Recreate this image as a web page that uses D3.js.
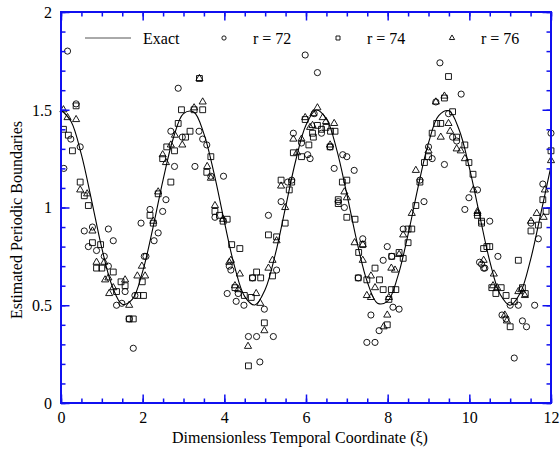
<!DOCTYPE html>
<html><head><meta charset="utf-8">
<script src="https://cdn.jsdelivr.net/npm/d3@7"></script>
<style>body{margin:0;background:#fff}svg{display:block}text{font-family:"Liberation Serif","Times New Roman",serif;fill:#000}</style>
</head><body><svg id="c" width="560" height="454"></svg>
<script>
// Exact curve samples (xi step 0.25)
const exactX = d3.range(0, 12.001, 0.25);
const exactY = [1.5,1.4388,1.2702,1.0354,0.7919,0.5994,0.505,0.5318,0.6732,0.8946,1.1418,1.3544,1.4801,1.4883,1.3769,1.1733,0.9273,0.699,0.5444,0.5014,0.5804,0.7622,1.0022,1.2417,1.4219,1.4989,1.4537,1.2974,1.0684,0.8226,0.6202,0.5108,0.5212,0.6487,0.8624,1.1097,1.3302,1.4697,1.4944,1.3979,1.2041,0.9624,0.7262,0.5574,0.5,0.5634,0.7336,0.969,1.2121];

const r72 = [[0.16,1.80],[0.37,1.53],[0.24,1.35],[0.47,1.31],[0.07,1.20],[1.96,0.92],[0.77,0.90],[0.57,0.88],[1.16,0.89],[1.28,0.83],[0.67,0.80],[0.87,0.78],[1.06,0.75],[1.16,0.70],[1.57,0.57],[1.36,0.50],[1.49,0.51],[1.81,0.55],[2.04,0.75],[1.67,0.43],[1.77,0.28],[2.87,1.61],[3.38,1.39],[2.69,1.39],[2.97,1.36],[3.47,1.35],[3.57,1.32],[2.78,1.21],[3.28,1.21],[3.67,1.16],[3.98,1.16],[2.57,1.04],[2.18,0.99],[2.49,0.98],[3.77,0.95],[2.38,0.87],[2.28,0.83],[2.08,0.75],[4.12,0.70],[4.07,0.56],[5.98,1.78],[5.69,1.38],[5.89,1.33],[6.10,1.25],[5.55,1.13],[5.65,1.14],[5.39,1.03],[5.08,0.96],[4.16,0.68],[5.28,0.68],[4.69,0.64],[4.34,0.56],[4.29,0.52],[4.48,0.50],[4.98,0.48],[5.20,0.34],[4.59,0.34],[4.79,0.34],[4.87,0.21],[6.28,1.69],[6.20,1.48],[6.38,1.38],[6.59,1.31],[6.04,1.27],[6.90,1.27],[7.00,1.26],[6.69,1.20],[7.18,1.19],[6.79,1.03],[6.94,1.00],[7.39,0.84],[7.99,0.80],[7.89,0.73],[8.10,0.75],[7.28,0.64],[8.13,0.49],[7.59,0.45],[7.79,0.37],[7.49,0.31],[7.69,0.31],[9.28,1.74],[9.80,1.58],[9.18,1.54],[9.49,1.48],[9.59,1.36],[9.69,1.34],[9.00,1.31],[9.09,1.25],[9.39,1.22],[8.79,1.14],[10.20,1.09],[9.99,1.05],[8.89,1.03],[9.89,0.99],[8.38,0.89],[10.30,0.71],[10.38,0.69],[8.28,0.48],[12.0,1.38],[11.80,1.12],[11.51,0.92],[11.69,0.84],[10.50,0.93],[10.70,0.75],[10.25,0.72],[10.35,0.69],[11.00,0.50],[11.20,0.50],[11.60,0.50],[10.80,0.45],[10.90,0.43],[11.30,0.42],[11.40,0.39],[11.10,0.23]];

const r74 = [[0.37,1.52],[0.06,1.40],[0.18,1.37],[0.28,1.29],[0.47,1.13],[0.57,1.06],[0.67,1.01],[0.77,0.82],[0.97,0.81],[0.87,0.69],[1.00,0.69],[1.28,0.67],[1.36,0.57],[1.47,0.62],[1.57,0.60],[1.88,0.55],[1.99,0.62],[2.02,0.55],[1.67,0.43],[1.77,0.43],[3.39,1.66],[3.47,1.50],[3.26,1.50],[2.95,1.50],[2.87,1.43],[3.16,1.39],[3.05,1.36],[2.59,1.31],[2.78,1.29],[2.49,1.25],[3.67,1.26],[3.57,1.18],[2.69,1.13],[2.38,1.07],[2.18,0.96],[3.77,0.98],[3.88,0.96],[3.97,0.93],[4.07,0.94],[2.26,0.92],[5.98,1.45],[6.18,1.36],[6.07,1.32],[5.69,1.28],[5.89,1.26],[5.39,1.14],[5.65,1.13],[5.59,1.09],[5.49,0.92],[5.08,0.86],[5.28,0.85],[4.18,0.81],[4.38,0.79],[5.18,0.65],[4.79,0.67],[4.89,0.64],[4.69,0.64],[4.26,0.59],[4.49,0.55],[4.66,0.54],[4.98,0.41],[4.59,0.19],[6.28,1.42],[6.16,1.38],[6.38,1.40],[6.49,1.41],[6.60,1.39],[6.71,1.39],[6.59,1.31],[6.89,1.13],[7.00,1.14],[6.79,1.04],[6.79,1.02],[7.00,0.95],[7.20,0.94],[7.29,0.77],[7.39,0.81],[7.69,0.69],[8.10,0.75],[7.28,0.64],[7.49,0.63],[7.80,0.63],[7.89,0.58],[8.09,0.58],[8.03,0.53],[7.99,0.40],[9.49,1.67],[9.39,1.56],[9.59,1.49],[9.20,1.43],[9.30,1.43],[9.09,1.38],[9.69,1.36],[9.89,1.32],[9.00,1.26],[8.90,1.23],[9.99,1.23],[10.09,1.17],[8.79,1.13],[8.69,1.01],[10.20,0.96],[10.30,0.93],[8.50,0.89],[8.59,0.89],[8.50,0.82],[10.35,0.79],[8.28,0.77],[8.38,0.74],[8.20,0.58],[12.0,1.29],[11.80,1.04],[11.88,0.98],[11.69,0.91],[11.51,0.88],[10.30,0.92],[10.43,0.80],[10.50,0.80],[11.20,0.73],[10.55,0.59],[10.65,0.56],[10.78,0.59],[10.90,0.55],[11.10,0.52],[11.30,0.59],[11.37,0.56],[11.00,0.39]];

const r76 = [[0.06,1.50],[0.16,1.46],[0.37,1.45],[0.47,1.09],[0.64,1.07],[0.77,0.88],[1.06,0.72],[0.87,0.72],[1.08,0.63],[1.16,0.64],[1.28,0.59],[1.18,0.56],[1.57,0.63],[1.67,0.50],[1.87,0.65],[1.98,0.70],[2.06,0.65],[3.39,1.66],[3.47,1.54],[3.26,1.51],[2.79,1.37],[2.97,1.32],[2.69,1.32],[2.49,1.27],[2.57,1.23],[3.58,1.21],[3.67,1.15],[2.38,1.08],[3.77,1.01],[3.97,0.94],[2.26,0.93],[4.12,0.72],[6.18,1.48],[5.98,1.46],[6.10,1.41],[5.69,1.35],[5.89,1.35],[5.78,1.28],[5.39,1.11],[5.49,1.00],[5.28,0.83],[4.16,0.73],[4.38,0.66],[5.18,0.73],[5.08,0.69],[4.26,0.60],[4.34,0.58],[4.78,0.56],[4.88,0.51],[4.98,0.37],[4.58,0.29],[6.28,1.51],[6.41,1.46],[6.16,1.42],[6.49,1.44],[6.69,1.43],[6.59,1.32],[6.94,1.08],[7.00,1.05],[7.19,0.82],[7.39,0.81],[7.39,0.73],[7.59,0.65],[8.09,0.69],[7.69,0.59],[7.59,0.54],[7.49,0.55],[8.03,0.54],[7.99,0.45],[7.90,0.39],[9.18,1.54],[9.39,1.57],[9.49,1.43],[9.30,1.36],[9.53,1.39],[9.69,1.30],[9.79,1.29],[9.89,1.25],[9.00,1.29],[8.69,1.19],[10.10,1.09],[8.59,0.97],[10.20,0.97],[8.38,0.86],[8.28,0.76],[8.18,0.68],[12.0,1.24],[11.85,1.09],[11.82,0.95],[11.65,0.97],[11.51,0.93],[10.20,0.98],[10.35,0.73],[10.60,0.66],[10.58,0.60],[10.68,0.59],[11.20,0.57],[11.27,0.58],[11.36,0.55],[10.87,0.45],[10.92,0.42]];

const xMajor = [0,2,4,6,8,10,12];
const yMajor = [0,0.5,1,1.5,2];
const legendLabels = ["Exact","r = 72","r = 74","r = 76"];
const xTitle = "Dimensionless Temporal Coordinate (\u03BE)";
const yTitle = "Estimated Periodic Boundaries";

const L=61, R=551, T=12, B=403;
const AX = "#1010f0";
const svg = d3.select("#c");
svg.append("rect").attr("width",560).attr("height",454).attr("fill","#fff");
const x = d3.scaleLinear().domain([0,12]).range([L,R]);
const y = d3.scaleLinear().domain([0,2]).range([B,T]);

// data
const g = svg.append("g");
g.append("path").datum(exactX.map((v,i)=>[v,exactY[i]]))
 .attr("fill","none").attr("stroke","#000").attr("stroke-width",1.1)
 .attr("d", d3.line().x(d=>x(d[0])).y(d=>y(d[1])).curve(d3.curveCatmullRom));

const sym = {
  circle: d3.symbol().type(d3.symbolCircle).size(30),
  square: d3.symbol().type(d3.symbolSquare).size(34),
  tri: d3.symbol().type(d3.symbolTriangle).size(22)
};
function drawSeries(data, s){
  g.selectAll(null).data(data).enter().append("path")
   .attr("transform", d=>`translate(${x(d[0])},${y(d[1])})`)
   .attr("d", s).attr("fill","none").attr("stroke","#000").attr("stroke-width",0.9);
}
drawSeries(r72, sym.circle);
drawSeries(r74, sym.square);
drawSeries(r76, sym.tri);

// axes
function styleAx(sel){ sel.select(".domain").remove(); sel.selectAll("line").attr("stroke",AX).attr("stroke-width",1.5);
  sel.selectAll("text").attr("font-size",16).attr("font-family","Liberation Serif, Times New Roman, serif").attr("fill","#000"); }
const xMinor = d3.range(0,12.001,0.5), yMinor = d3.range(0,2.001,0.1);
svg.append("g").attr("transform",`translate(0,${B})`).call(d3.axisBottom(x).tickValues(xMinor).tickSize(-4.5).tickFormat("")).call(styleAx);
svg.append("g").attr("transform",`translate(0,${B})`).call(d3.axisBottom(x).tickValues(xMajor).tickSize(-8.5).tickFormat(d3.format("d"))).call(styleAx)
  .selectAll("text").attr("y",20).attr("dy",null);
svg.append("g").attr("transform",`translate(0,${T})`).call(d3.axisTop(x).tickValues(xMinor).tickSize(-4.5).tickFormat("")).call(styleAx);
svg.append("g").attr("transform",`translate(0,${T})`).call(d3.axisTop(x).tickValues(xMajor).tickSize(-8.5).tickFormat("")).call(styleAx);
svg.append("g").attr("transform",`translate(${L},0)`).call(d3.axisLeft(y).tickValues(yMinor).tickSize(-4.5).tickFormat("")).call(styleAx);
svg.append("g").attr("transform",`translate(${L},0)`).call(d3.axisLeft(y).tickValues(yMajor).tickSize(-8.5).tickFormat(d=>String(d))).call(styleAx)
  .selectAll("text").attr("x",-9).attr("dy","0.33em");
svg.append("g").attr("transform",`translate(${R},0)`).call(d3.axisRight(y).tickValues(yMinor).tickSize(-4.5).tickFormat("")).call(styleAx);
svg.append("g").attr("transform",`translate(${R},0)`).call(d3.axisRight(y).tickValues(yMajor).tickSize(-8.5).tickFormat("")).call(styleAx);
svg.append("rect").attr("x",L).attr("y",T).attr("width",R-L).attr("height",B-T)
  .attr("fill","none").attr("stroke",AX).attr("stroke-width",2);

// titles
svg.append("text").attr("x",300).attr("y",443).attr("text-anchor","middle").attr("font-size",16).text(xTitle);
svg.append("text").attr("transform","translate(22,220) rotate(-90)").attr("text-anchor","middle").attr("font-size",16).text(yTitle);

// legend
const lg = svg.append("g");
lg.append("line").attr("x1",85).attr("x2",131).attr("y1",38).attr("y2",38).attr("stroke","#555").attr("stroke-width",1);
const legSym=[null, d3.symbol().type(d3.symbolCircle).size(14), d3.symbol().type(d3.symbolSquare).size(16), d3.symbol().type(d3.symbolTriangle).size(12)];
const legSymX=[null,224,338,452], legTextX=[143,253,367,481];
legendLabels.forEach((t,i)=>{
  if(legSym[i]) lg.append("path").attr("transform",`translate(${legSymX[i]},38)`).attr("d",legSym[i]()).attr("fill","none").attr("stroke","#000").attr("stroke-width",0.9);
  lg.append("text").attr("x",legTextX[i]).attr("y",43.5).attr("font-size",16).text(t);
});
</script></body></html>
